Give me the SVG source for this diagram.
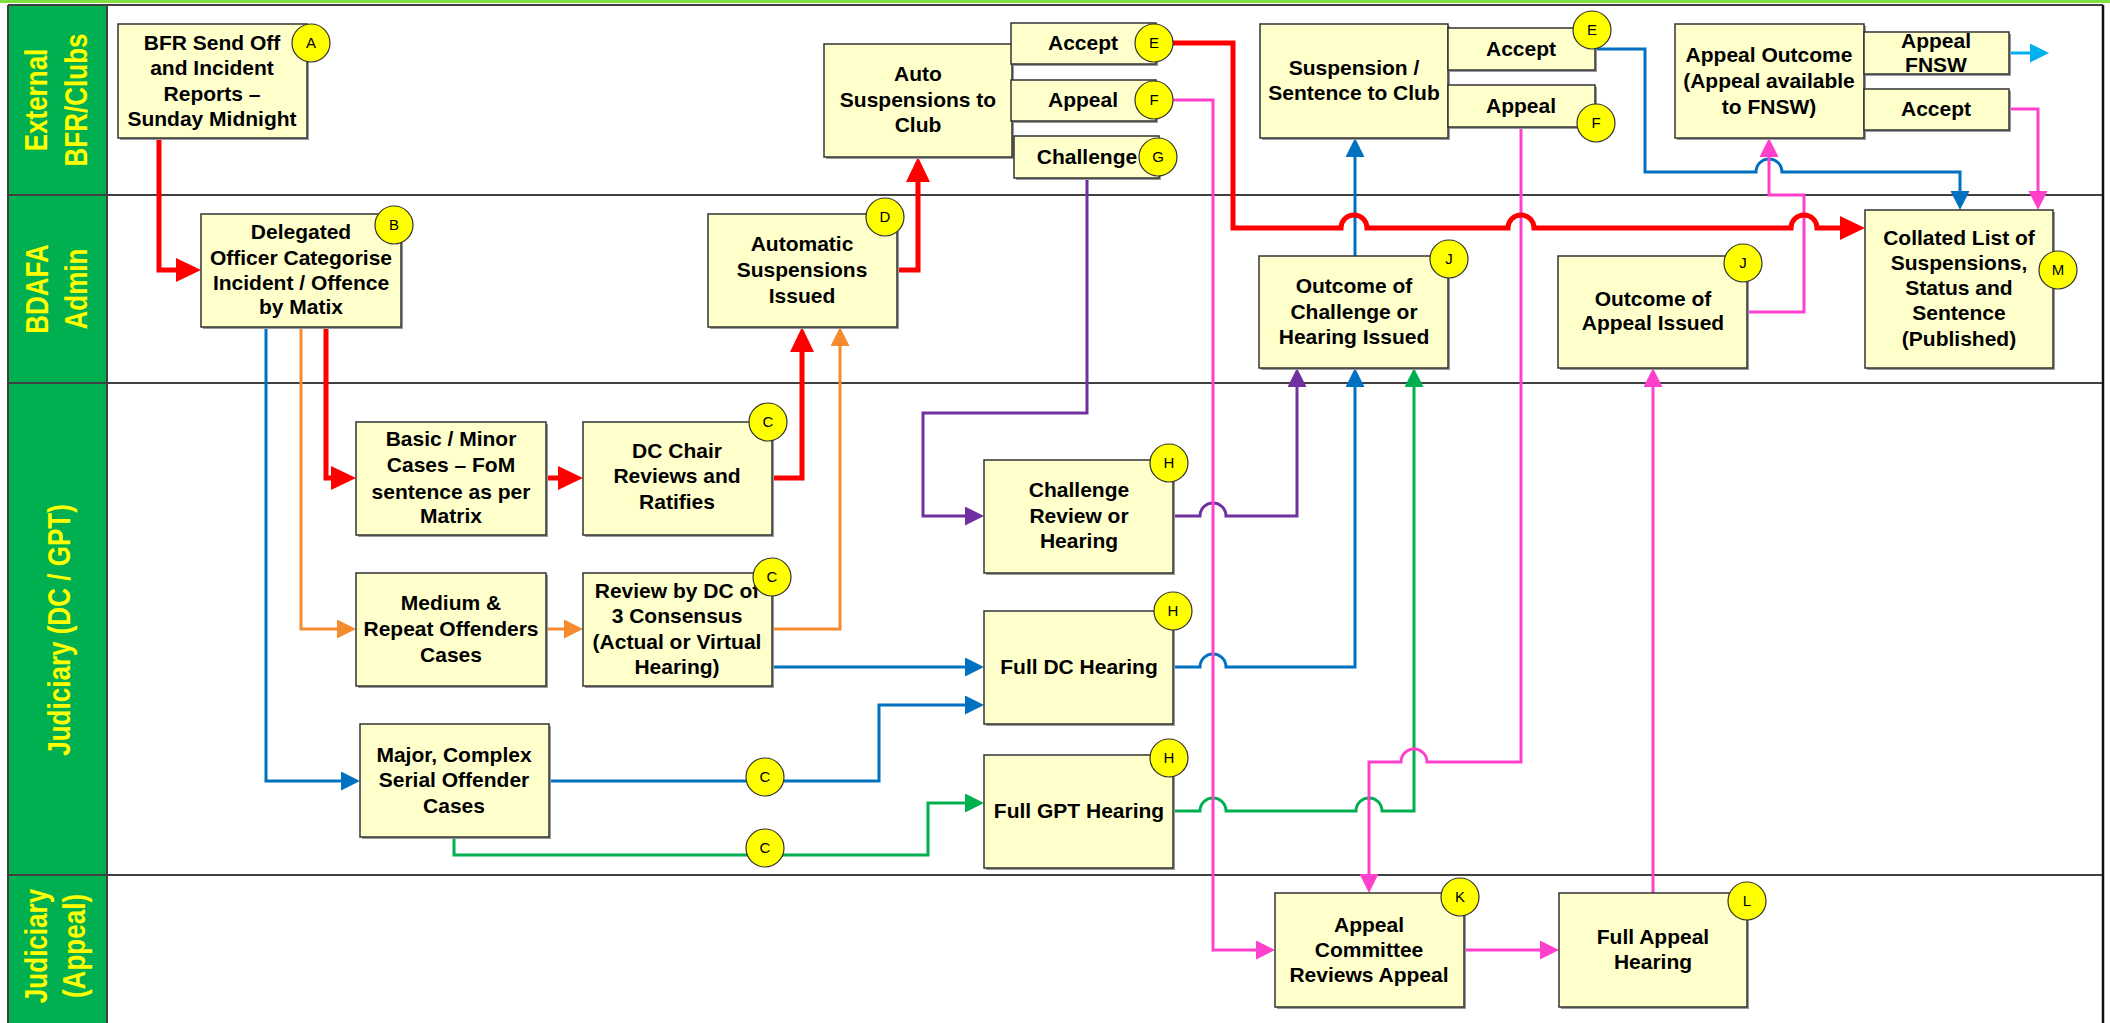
<svg xmlns="http://www.w3.org/2000/svg" width="2110" height="1023" viewBox="0 0 2110 1023">
<style>
.bx{fill:#FFFFCC;stroke:#333;stroke-width:1.5}
.sh{fill:#9a9a9a}
.t{font-family:"Liberation Sans",Arial,sans-serif;font-weight:bold;font-size:21px;fill:#000;text-anchor:middle}
.ct{font-family:"Liberation Sans",Arial,sans-serif;font-size:15px;fill:#000;text-anchor:middle}
.cc{fill:#FFFF00;stroke:#333;stroke-width:1.2}
.lane{font-family:"Liberation Sans",Arial,sans-serif;font-weight:bold;font-size:31px;fill:#FFFF00;text-anchor:middle}
.ln{fill:none;stroke-linejoin:miter;stroke-linecap:butt}
.red{stroke:#FF0000;stroke-width:5}
.blu{stroke:#0070C0;stroke-width:3}
.org{stroke:#F58A2E;stroke-width:3}
.pur{stroke:#7030A0;stroke-width:3}
.grn{stroke:#00B050;stroke-width:3}
.pnk{stroke:#FF40CC;stroke-width:3}
.cya{stroke:#00B0F0;stroke-width:3}
.lanel{stroke:#404040;stroke-width:2}
</style>
<defs>
<marker id="mr" markerUnits="userSpaceOnUse" markerWidth="26" markerHeight="25" refX="15" refY="12" orient="auto"><path d="M0,0 L25,12 L0,24 z" fill="#FF0000"/></marker>
<marker id="mb" markerUnits="userSpaceOnUse" markerWidth="20" markerHeight="20" refX="13" refY="9.5" orient="auto"><path d="M0,0 L19,9.5 L0,19 z" fill="#0070C0"/></marker>
<marker id="mo" markerUnits="userSpaceOnUse" markerWidth="20" markerHeight="20" refX="13" refY="9.5" orient="auto"><path d="M0,0 L19,9.5 L0,19 z" fill="#F58A2E"/></marker>
<marker id="mp" markerUnits="userSpaceOnUse" markerWidth="20" markerHeight="20" refX="13" refY="9.5" orient="auto"><path d="M0,0 L19,9.5 L0,19 z" fill="#7030A0"/></marker>
<marker id="mg" markerUnits="userSpaceOnUse" markerWidth="20" markerHeight="20" refX="13" refY="9.5" orient="auto"><path d="M0,0 L19,9.5 L0,19 z" fill="#00B050"/></marker>
<marker id="mk" markerUnits="userSpaceOnUse" markerWidth="20" markerHeight="20" refX="13" refY="9.5" orient="auto"><path d="M0,0 L19,9.5 L0,19 z" fill="#FF40CC"/></marker>
<marker id="mc" markerUnits="userSpaceOnUse" markerWidth="20" markerHeight="20" refX="13" refY="9.5" orient="auto"><path d="M0,0 L19,9.5 L0,19 z" fill="#00B0F0"/></marker>
</defs>
<rect x="0" y="0" width="2110" height="1023" fill="#FFFFFF"/>
<g id="swimlanes">
<rect x="0" y="0" width="2110" height="3" fill="#7FE040"/>
<rect x="8" y="5" width="99" height="1018" fill="#00B050"/>
<line class="lanel" x1="8" y1="5" x2="2103" y2="5"/>
<line class="lanel" x1="8" y1="195" x2="2103" y2="195"/>
<line class="lanel" x1="8" y1="383" x2="2103" y2="383"/>
<line class="lanel" x1="8" y1="875" x2="2103" y2="875"/>
<line class="lanel" x1="8" y1="5" x2="8" y2="1023"/>
<line class="lanel" x1="107" y1="5" x2="107" y2="1023"/>
<line stroke="#111" stroke-width="2.5" x1="2103" y1="5" x2="2103" y2="1023"/>
<text class="lane" transform="translate(47,100) rotate(-90) scale(0.84,1)">External</text>
<text class="lane" transform="translate(87,100) rotate(-90) scale(0.84,1)">BFR/Clubs</text>
<text class="lane" transform="translate(48,289) rotate(-90) scale(0.84,1)">BDAFA</text>
<text class="lane" transform="translate(87,289) rotate(-90) scale(0.84,1)">Admin</text>
<text class="lane" transform="translate(70,630) rotate(-90) scale(0.84,1)">Judiciary (DC / GPT)</text>
<text class="lane" transform="translate(47,946) rotate(-90) scale(0.84,1)">Judiciary</text>
<text class="lane" transform="translate(85,946) rotate(-90) scale(0.84,1)">(Appeal)</text>
</g>
<g id="connectors">
<path class="ln red" d="M159,138 V270 H191" marker-end="url(#mr)"/>
<path class="ln red" d="M326,327 V478 H346" marker-end="url(#mr)"/>
<path class="ln red" d="M546,478 H573" marker-end="url(#mr)"/>
<path class="ln red" d="M772,478 H802 V337" marker-end="url(#mr)"/>
<path class="ln red" d="M897,270 H918 V167" marker-end="url(#mr)"/>
<path class="ln org" d="M301,327 V629 H350" marker-end="url(#mo)"/>
<path class="ln org" d="M546,629 H577" marker-end="url(#mo)"/>
<path class="ln org" d="M772,629 H840 V333" marker-end="url(#mo)"/>
<path class="ln blu" d="M266,327 V781 H354" marker-end="url(#mb)"/>
<path class="ln blu" d="M549,781 H879 V705 H978" marker-end="url(#mb)"/>
<path class="ln blu" d="M772,667 H978" marker-end="url(#mb)"/>
<path class="ln blu" d="M1173,667 H1200 a13,13 0 0 1 26,0 H1355 V374" marker-end="url(#mb)"/>
<path class="ln blu" d="M1355,256 V144" marker-end="url(#mb)"/>
<path class="ln blu" d="M1595,49 H1645 V172 H1756 a13,13 0 0 1 26,0 H1960 V204" marker-end="url(#mb)"/>
<path class="ln grn" d="M454,837 V855 H928 V803 H978" marker-end="url(#mg)"/>
<path class="ln grn" d="M1173,811 H1200 a13,13 0 0 1 26,0 H1356 a13,13 0 0 1 26,0 H1414 V374" marker-end="url(#mg)"/>
<path class="ln pur" d="M1087,178 V413 H923 V516 H978" marker-end="url(#mp)"/>
<path class="ln pur" d="M1173,516 H1200 a13,13 0 0 1 26,0 H1297 V374" marker-end="url(#mp)"/>
<path class="ln pnk" d="M1173,100 H1213 V950 H1269" marker-end="url(#mk)"/>
<path class="ln pnk" d="M1521,127 V762 H1427 a13,13 0 0 0 -26,0 H1369 V887" marker-end="url(#mk)"/>
<path class="ln pnk" d="M1464,950 H1553" marker-end="url(#mk)"/>
<path class="ln pnk" d="M1653,893 V374" marker-end="url(#mk)"/>
<path class="ln pnk" d="M1747,312 H1804 V195 H1769 V144" marker-end="url(#mk)"/>
<path class="ln pnk" d="M2009,109 H2038 V204" marker-end="url(#mk)"/>
<path class="ln cya" d="M2009,53 H2043" marker-end="url(#mc)"/>
<path class="ln red" d="M1173,43 H1233 V228 H1341 a13,13 0 0 1 26,0 H1508 a13,13 0 0 1 26,0 H1791 a13,13 0 0 1 26,0 H1855" marker-end="url(#mr)"/>
<circle class="cc" cx="765" cy="777" r="19"/><text class="ct" x="765" y="782">C</text>
<circle class="cc" cx="765" cy="848" r="19"/><text class="ct" x="765" y="853">C</text>
</g>
<g id="nodeA"><rect class="sh" x="120" y="26" width="189" height="114"/><rect class="bx" x="118" y="24" width="189" height="114"/>
<text class="t" x="212" y="50">BFR Send Off</text><text class="t" x="212" y="75">and Incident</text><text class="t" x="212" y="101">Reports –</text><text class="t" x="212" y="126">Sunday Midnight</text>
<circle class="cc" cx="311" cy="43" r="19"/><text class="ct" x="311" y="48">A</text></g>
<g id="nodeB"><rect class="sh" x="203" y="216" width="200" height="113"/><rect class="bx" x="201" y="214" width="200" height="113"/>
<text class="t" x="301" y="239">Delegated</text><text class="t" x="301" y="265">Officer Categorise</text><text class="t" x="301" y="290">Incident / Offence</text><text class="t" x="301" y="314">by Matix</text>
<circle class="cc" cx="394" cy="225" r="19"/><text class="ct" x="394" y="230">B</text></g>
<g id="nodeAutoSusp"><rect class="sh" x="826" y="46" width="188" height="113"/><rect class="bx" x="824" y="44" width="188" height="113"/>
<text class="t" x="918" y="81">Auto</text><text class="t" x="918" y="107">Suspensions to</text><text class="t" x="918" y="132">Club</text></g>
<g id="nodeAccept1"><rect class="sh" x="1013" y="25" width="145" height="41"/><rect class="bx" x="1011" y="23" width="145" height="41"/>
<text class="t" x="1083" y="50">Accept</text>
<circle class="cc" cx="1154" cy="43" r="19"/><text class="ct" x="1154" y="48">E</text></g>
<g id="nodeAppeal1"><rect class="sh" x="1013" y="82" width="145" height="41"/><rect class="bx" x="1011" y="80" width="145" height="41"/>
<text class="t" x="1083" y="107">Appeal</text>
<circle class="cc" cx="1154" cy="100" r="19"/><text class="ct" x="1154" y="105">F</text></g>
<g id="nodeChallenge"><rect class="sh" x="1016" y="138" width="145" height="42"/><rect class="bx" x="1014" y="136" width="145" height="42"/>
<text class="t" x="1087" y="164">Challenge</text>
<circle class="cc" cx="1158" cy="157" r="19"/><text class="ct" x="1158" y="162">G</text></g>
<g id="nodeD"><rect class="sh" x="710" y="216" width="189" height="113"/><rect class="bx" x="708" y="214" width="189" height="113"/>
<text class="t" x="802" y="251">Automatic</text><text class="t" x="802" y="277">Suspensions</text><text class="t" x="802" y="303">Issued</text>
<circle class="cc" cx="885" cy="217" r="19"/><text class="ct" x="885" y="222">D</text></g>
<g id="nodeSuspension"><rect class="sh" x="1262" y="26" width="188" height="114"/><rect class="bx" x="1260" y="24" width="188" height="114"/>
<text class="t" x="1354" y="75">Suspension /</text><text class="t" x="1354" y="100">Sentence to Club</text></g>
<g id="nodeAccept2"><rect class="sh" x="1450" y="30" width="147" height="42"/><rect class="bx" x="1448" y="28" width="147" height="42"/>
<text class="t" x="1521" y="56">Accept</text>
<circle class="cc" cx="1592" cy="30" r="19"/><text class="ct" x="1592" y="35">E</text></g>
<g id="nodeAppeal2"><rect class="sh" x="1450" y="87" width="147" height="42"/><rect class="bx" x="1448" y="85" width="147" height="42"/>
<text class="t" x="1521" y="113">Appeal</text>
<circle class="cc" cx="1596" cy="123" r="19"/><text class="ct" x="1596" y="128">F</text></g>
<g id="nodeAppealOutcome"><rect class="sh" x="1677" y="26" width="189" height="114"/><rect class="bx" x="1675" y="24" width="189" height="114"/>
<text class="t" x="1769" y="62">Appeal Outcome</text><text class="t" x="1769" y="88">(Appeal available</text><text class="t" x="1769" y="114">to FNSW)</text></g>
<g id="nodeAppealFNSW"><rect class="sh" x="1866" y="34" width="145" height="42"/><rect class="bx" x="1864" y="32" width="145" height="42"/>
<text class="t" x="1936" y="48">Appeal</text><text class="t" x="1936" y="72">FNSW</text></g>
<g id="nodeAccept3"><rect class="sh" x="1866" y="91" width="145" height="41"/><rect class="bx" x="1864" y="89" width="145" height="41"/>
<text class="t" x="1936" y="116">Accept</text></g>
<g id="nodeJ1"><rect class="sh" x="1261" y="258" width="189" height="112"/><rect class="bx" x="1259" y="256" width="189" height="112"/>
<text class="t" x="1354" y="293">Outcome of</text><text class="t" x="1354" y="319">Challenge or</text><text class="t" x="1354" y="344">Hearing Issued</text>
<circle class="cc" cx="1449" cy="259" r="19"/><text class="ct" x="1449" y="264">J</text></g>
<g id="nodeJ2"><rect class="sh" x="1560" y="258" width="189" height="112"/><rect class="bx" x="1558" y="256" width="189" height="112"/>
<text class="t" x="1653" y="306">Outcome of</text><text class="t" x="1653" y="330">Appeal Issued</text>
<circle class="cc" cx="1743" cy="263" r="19"/><text class="ct" x="1743" y="268">J</text></g>
<g id="nodeM"><rect class="sh" x="1867" y="212" width="188" height="158"/><rect class="bx" x="1865" y="210" width="188" height="158"/>
<text class="t" x="1959" y="245">Collated List of</text><text class="t" x="1959" y="270">Suspensions,</text><text class="t" x="1959" y="295">Status and</text><text class="t" x="1959" y="320">Sentence</text><text class="t" x="1959" y="346">(Published)</text>
<circle class="cc" cx="2058" cy="270" r="19"/><text class="ct" x="2058" y="275">M</text></g>
<g id="nodeBasic"><rect class="sh" x="358" y="424" width="190" height="113"/><rect class="bx" x="356" y="422" width="190" height="113"/>
<text class="t" x="451" y="446">Basic / Minor</text><text class="t" x="451" y="472">Cases – FoM</text><text class="t" x="451" y="499">sentence as per</text><text class="t" x="451" y="523">Matrix</text></g>
<g id="nodeDCChair"><rect class="sh" x="585" y="424" width="189" height="113"/><rect class="bx" x="583" y="422" width="189" height="113"/>
<text class="t" x="677" y="458">DC Chair</text><text class="t" x="677" y="483">Reviews and</text><text class="t" x="677" y="509">Ratifies</text>
<circle class="cc" cx="768" cy="422" r="19"/><text class="ct" x="768" y="427">C</text></g>
<g id="nodeMedium"><rect class="sh" x="358" y="575" width="190" height="113"/><rect class="bx" x="356" y="573" width="190" height="113"/>
<text class="t" x="451" y="610">Medium &amp;</text><text class="t" x="451" y="636">Repeat Offenders</text><text class="t" x="451" y="662">Cases</text></g>
<g id="nodeReview"><rect class="sh" x="585" y="575" width="189" height="113"/><rect class="bx" x="583" y="573" width="189" height="113"/>
<text class="t" x="677" y="598">Review by DC of</text><text class="t" x="677" y="623">3 Consensus</text><text class="t" x="677" y="649">(Actual or Virtual</text><text class="t" x="677" y="674">Hearing)</text>
<circle class="cc" cx="772" cy="577" r="19"/><text class="ct" x="772" y="582">C</text></g>
<g id="nodeMajor"><rect class="sh" x="362" y="726" width="189" height="113"/><rect class="bx" x="360" y="724" width="189" height="113"/>
<text class="t" x="454" y="762">Major, Complex</text><text class="t" x="454" y="787">Serial Offender</text><text class="t" x="454" y="813">Cases</text></g>
<g id="nodeChallengeReview"><rect class="sh" x="986" y="462" width="189" height="113"/><rect class="bx" x="984" y="460" width="189" height="113"/>
<text class="t" x="1079" y="497">Challenge</text><text class="t" x="1079" y="523">Review or</text><text class="t" x="1079" y="548">Hearing</text>
<circle class="cc" cx="1169" cy="463" r="19"/><text class="ct" x="1169" y="468">H</text></g>
<g id="nodeFullDC"><rect class="sh" x="986" y="613" width="189" height="113"/><rect class="bx" x="984" y="611" width="189" height="113"/>
<text class="t" x="1079" y="674">Full DC Hearing</text>
<circle class="cc" cx="1173" cy="611" r="19"/><text class="ct" x="1173" y="616">H</text></g>
<g id="nodeFullGPT"><rect class="sh" x="986" y="757" width="189" height="113"/><rect class="bx" x="984" y="755" width="189" height="113"/>
<text class="t" x="1079" y="818">Full GPT Hearing</text>
<circle class="cc" cx="1169" cy="758" r="19"/><text class="ct" x="1169" y="763">H</text></g>
<g id="nodeK"><rect class="sh" x="1277" y="895" width="189" height="114"/><rect class="bx" x="1275" y="893" width="189" height="114"/>
<text class="t" x="1369" y="932">Appeal</text><text class="t" x="1369" y="957">Committee</text><text class="t" x="1369" y="982">Reviews Appeal</text>
<circle class="cc" cx="1460" cy="897" r="19"/><text class="ct" x="1460" y="902">K</text></g>
<g id="nodeL"><rect class="sh" x="1561" y="895" width="188" height="114"/><rect class="bx" x="1559" y="893" width="188" height="114"/>
<text class="t" x="1653" y="944">Full Appeal</text><text class="t" x="1653" y="969">Hearing</text>
<circle class="cc" cx="1747" cy="901" r="19"/><text class="ct" x="1747" y="906">L</text></g>
</svg>
